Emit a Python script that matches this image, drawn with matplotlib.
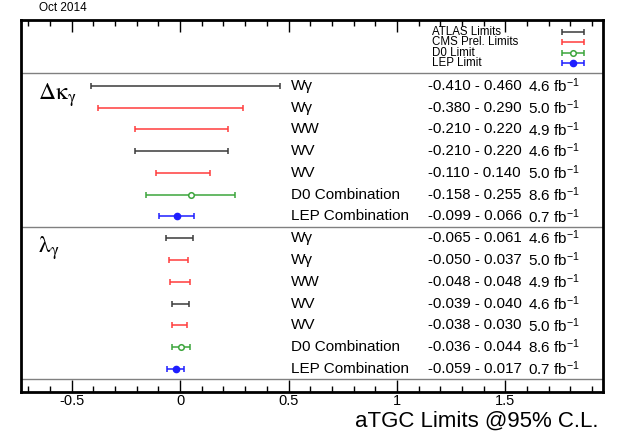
import matplotlib
matplotlib.use('Agg')
import matplotlib.pyplot as plt
from matplotlib.ticker import MultipleLocator

plt.rcParams['font.family'] = ['Liberation Sans', 'DejaVu Sans']
plt.rcParams['mathtext.fontset'] = 'custom'
plt.rcParams['mathtext.rm'] = 'Liberation Sans'
plt.rcParams['mathtext.it'] = 'Liberation Sans:italic'

# measurements, top to bottom (same order for both couplings)
labels = ['Wγ', 'Wγ', 'WW', 'WV', 'WV', 'D0 Combination', 'LEP Combination']
experiments = ['ATLAS', 'CMS', 'CMS', 'ATLAS', 'CMS', 'D0', 'LEP']
lumi = [4.6, 5.0, 4.9, 4.6, 5.0, 8.6, 0.7]
dk_low = [-0.410, -0.380, -0.210, -0.210, -0.110, -0.158, -0.099]
dk_high = [0.460, 0.290, 0.220, 0.220, 0.140, 0.255, 0.066]
lam_low = [-0.065, -0.050, -0.048, -0.039, -0.038, -0.036, -0.059]
lam_high = [0.061, 0.037, 0.048, 0.040, 0.030, 0.044, 0.017]

legend_exps = ['ATLAS', 'CMS', 'D0', 'LEP']
legend_names = ['ATLAS Limits', 'CMS Prel. Limits', 'D0 Limit', 'LEP Limit']

colors = {'ATLAS': '#3a3a3a', 'CMS': '#ff3c3c', 'D0': '#3ca53c', 'LEP': '#1e1eff'}
markers = {'ATLAS': None, 'CMS': None, 'D0': 'open', 'LEP': 'filled'}


def draw_limit(ax, lo, hi, y, exp):
    c = colors[exp]
    mid = (lo + hi) / 2
    ax.errorbar([mid], [y], xerr=[[mid - lo], [hi - mid]], fmt='none',
                ecolor=c, elinewidth=1.1, capsize=2.5, capthick=1.1)
    if markers[exp] == 'open':
        ax.plot(mid, y, 'o', ms=4, mfc='white', mec=c, mew=1.1)
    elif markers[exp] == 'filled':
        ax.plot(mid, y, 'o', ms=4.5, color=c)


fig = plt.figure(figsize=(6.23, 4.32), dpi=100)
ax = fig.add_axes([0.0332, 0.0933, 0.9347, 0.8604])
ax.set_xlim(-0.735, 1.95)
ax.set_ylim(14.05, -3.02)

n = len(labels)
for block, (low, high) in enumerate([(dk_low, dk_high), (lam_low, lam_high)]):
    for i in range(n):
        y = block * n + i
        draw_limit(ax, low[i], high[i], y, experiments[i])
        ax.text(0.51, y, labels[i], va='center', fontsize=11)
        ax.text(1.143, y, f'{low[i]:.3f} - {high[i]:.3f}', va='center', fontsize=10.8)
        ax.text(1.603, y, f'{lumi[i]:.1f} fb$^{{-1}}$', va='center', fontsize=11)

ax.text(-0.655, 0.45, r'$\mathrm{\Delta\kappa}_{\mathrm{\gamma}}$', math_fontfamily='stix',
        fontsize=17, va='center')
ax.text(-0.655, 7.45, r'$\mathrm{\lambda}_{\mathrm{\gamma}}$', math_fontfamily='stix',
        fontsize=17, va='center')

# separators
for ysep in [-0.58, 6.5, 13.47]:
    ax.axhline(ysep, color='#808080', lw=1)

# legend drawn by hand, text left and sample on the right
for k, (exp, name) in enumerate(zip(legend_exps, legend_names)):
    y = -2.48 + 0.485 * k
    ax.text(1.161, y, name, va='center', fontsize=8.3)
    draw_limit(ax, 1.76, 1.862, y, exp)

ax.xaxis.set_major_locator(MultipleLocator(0.5))
ax.xaxis.set_minor_locator(MultipleLocator(0.1))
ax.xaxis.set_major_formatter(lambda v, p: f'{v:g}')
ax.tick_params(axis='x', which='both', direction='in', top=True, labelsize=10.5, pad=1.5)
ax.tick_params(axis='x', which='major', length=8.5, width=1)
ax.tick_params(axis='x', which='minor', length=4.3, width=1)
ax.set_yticks([])
for s in ax.spines.values():
    s.set_linewidth(2)

fig.text(0.0626, 0.981, 'Oct 2014', fontsize=8.5, va='center')
fig.text(0.96, 0.013, 'aTGC Limits @95% C.L.', fontsize=16, ha='right', va='baseline')

fig.savefig('out.png', dpi=100)
